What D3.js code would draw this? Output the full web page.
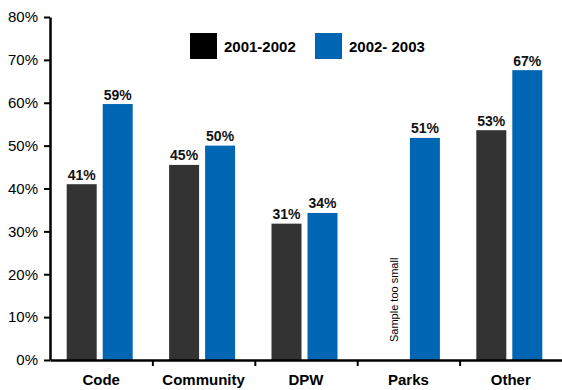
<!DOCTYPE html>
<html><head><meta charset="utf-8">
<script src="https://cdn.jsdelivr.net/npm/d3@7"></script>
<style>body{margin:0;background:#fff}svg{display:block}text{font-family:Arial,"Liberation Sans",sans-serif}</style>
</head><body>
<script>
const categories = ["Code","Community","DPW","Parks","Other"];
const series = ["2001-2002","2002- 2003"];
const values2001 = [41.0, 45.5, 31.8, null, 53.6];
const values2002 = [59.7, 50.0, 34.3, 51.8, 67.6];
const labels2001 = ["41%","45%","31%",null,"53%"];
const labels2002 = ["59%","50%","34%","51%","67%"];
const yTicks = [0,10,20,30,40,50,60,70,80];
const noDataText = "Sample too small";

const W=562,H=390;
const svg=d3.select("body").append("svg").attr("width",W).attr("height",H);
const x0=d3.scaleBand().domain(categories).range([50,562]);
const bw=x0.bandwidth();
const x1=d3.scaleBand().domain(series).range([bw/2-34.5,bw/2+31.5]).paddingInner(1/6);
const y=d3.scaleLinear().domain([0,80]).range([360,17]);
const colors=["#333333","#0066b3"];
const legendColors=["#000000","#0066b3"];

const data=[values2001,values2002], labs=[labels2001,labels2002];
series.forEach((s,si)=>{
  categories.forEach((c,ci)=>{
    const v=data[si][ci];
    const bx=x0(c)+x1(s);
    if(v==null){
      svg.append("text").attr("transform",`translate(${bx+x1.bandwidth()/2+9},${y(0)-18}) rotate(-90)`)
        .attr("font-size",11).attr("fill","#000").text(noDataText);
      return;
    }
    svg.append("rect").attr("x",bx).attr("y",y(v)).attr("width",x1.bandwidth()).attr("height",y(0)-y(v)).attr("fill",colors[si]);
    svg.append("text").attr("x",bx+x1.bandwidth()/2).attr("y",y(v)-4.5).attr("text-anchor","middle")
      .attr("font-size",14).attr("font-weight","bold").attr("fill","#111").text(labs[si][ci]);
  });
});

// y axis
const yAxis=d3.axisLeft(y).tickValues(yTicks).tickFormat(d=>d+"%").tickSize(6).tickSizeOuter(0).tickPadding(6);
const gy=svg.append("g").attr("transform","translate(50,0)").call(yAxis);
gy.selectAll("text").attr("font-size",15).attr("fill","#000");
gy.selectAll("line").attr("stroke","#000").attr("stroke-width",2);
gy.select(".domain").attr("stroke","#000").attr("stroke-width",2.5);
gy.attr("font-family",null);

// x axis
const xi=d3.scaleLinear().domain([0,categories.length]).range([50,562]);
const gx=svg.append("g").attr("transform","translate(0,360)").call(d3.axisBottom(xi).tickValues([1,2,3,4]).tickFormat("").tickSize(6).tickSizeOuter(0));
gx.selectAll("line").attr("stroke","#000").attr("stroke-width",2);
gx.select(".domain").attr("stroke","#000").attr("stroke-width",2.5);
categories.forEach(c=>{
  svg.append("text").attr("x",x0(c)+bw/2).attr("y",385).attr("text-anchor","middle")
    .attr("font-size",15).attr("font-weight","bold").attr("fill","#000").text(c);
});

// legend
const lx=[190,315];
series.forEach((s,i)=>{
  svg.append("rect").attr("x",lx[i]).attr("y",33).attr("width",27).attr("height",26).attr("fill",legendColors[i]);
  svg.append("text").attr("x",lx[i]+34).attr("y",51.5).attr("font-size",15).attr("font-weight","bold").attr("fill","#000").text(s);
});
</script>
</body></html>
